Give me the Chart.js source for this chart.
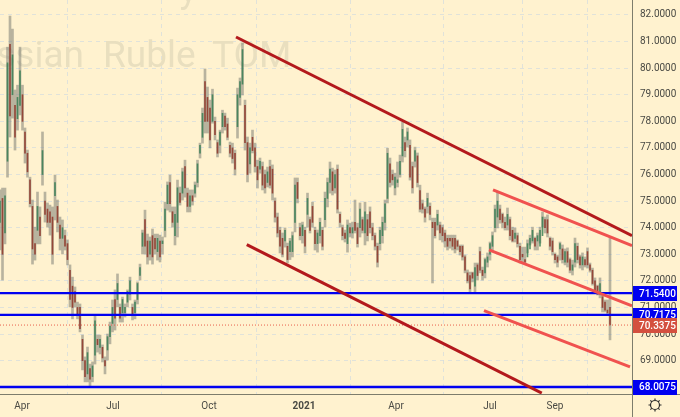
<!DOCTYPE html>
<html><head><meta charset="utf-8">
<style>html,body{margin:0;padding:0;background:#fff2cf}#w{width:680px;height:417px;position:relative}</style>
<script src="https://cdn.jsdelivr.net/npm/chart.js@4"></script>
</head><body><div id="w"><canvas id="c" width="680" height="417"></canvas></div>
<script>
const highs=[
75.42,75.49,75.49,80.79,81.96,81.47,79.18,79.36,80.79,79.36,
77.75,76.92,75.90,75.04,74.02,75.34,74.78,77.60,75.34,74.93,
74.85,74.78,75.98,75.04,74.40,74.29,73.91,73.54,72.60,72.14,
71.77,71.20,71.13,69.96,69.14,69.51,68.87,68.95,70.72,69.96,
69.96,69.59,69.14,70.00,70.45,71.28,71.66,72.26,71.13,71.39,
71.13,71.66,72.14,71.13,71.28,71.96,72.63,73.91,74.66,73.76,
73.65,73.95,73.76,73.76,73.72,73.65,74.96,75.72,75.98,74.78,
74.78,75.79,75.53,76.24,76.54,75.49,75.42,75.42,75.72,76.54,
77.18,78.50,79.97,79.29,78.80,79.21,78.16,77.30,77.67,78.42,
78.31,78.12,77.22,77.18,76.92,79.25,79.63,80.94,78.80,77.41,
77.18,77.67,77.18,76.54,76.62,76.47,76.17,76.28,76.54,76.36,
75.12,74.55,74.02,73.80,73.99,73.42,73.60,73.84,75.87,75.87,
74.17,74.21,74.02,75.30,74.40,74.96,74.02,73.91,74.36,74.02,
75.34,75.87,76.47,76.24,76.17,76.36,74.59,74.10,73.91,74.29,
74.17,74.21,75.04,74.17,74.93,74.40,74.96,74.50,74.78,74.17,
73.80,73.42,74.02,74.40,75.04,76.99,76.62,76.17,76.05,76.47,
76.73,77.97,77.41,77.75,77.30,76.47,77.03,76.81,75.60,75.04,
74.78,75.30,74.93,74.36,74.36,74.66,74.21,74.10,73.91,73.72,
73.72,73.72,73.72,73.54,73.35,73.35,72.97,72.41,72.33,72.33,
72.67,72.67,73.27,72.52,72.86,73.05,73.46,73.84,74.85,75.34,
74.85,74.55,74.40,74.74,74.40,74.02,73.99,73.80,73.42,73.27,
73.27,73.54,73.72,74.02,73.65,73.80,74.02,74.59,74.40,74.48,
73.65,73.61,73.05,72.97,73.46,73.35,73.20,73.24,72.86,72.78,
73.61,73.42,72.97,73.05,72.90,73.24,72.67,72.48,72.11,71.84,
72.11,71.47,71.28,71.28,73.65];
const lows=[
73.16,72.03,73.39,75.90,77.41,78.12,76.92,77.67,78.24,77.67,
76.43,75.90,74.78,72.63,72.78,73.39,73.39,75.60,74.21,74.02,
73.72,72.63,74.29,73.84,73.16,73.01,73.16,72.60,71.02,70.57,
71.02,70.57,70.08,68.65,68.20,68.20,68.05,68.20,68.87,69.32,
69.25,68.95,68.50,69.02,69.63,70.08,70.15,71.02,70.45,70.45,
70.64,71.02,71.28,70.53,70.57,71.13,72.03,73.01,73.01,72.63,
72.78,72.63,73.01,72.78,72.71,73.01,73.65,74.66,74.59,74.02,
73.35,73.65,74.85,75.04,75.15,74.59,74.59,74.85,75.15,75.53,
76.62,77.18,77.56,77.56,77.00,77.93,77.30,76.66,76.81,77.56,
77.67,77.30,76.66,76.43,75.98,77.37,78.61,78.99,76.92,75.72,
76.05,76.81,76.09,75.49,76.05,75.42,75.30,75.53,75.49,75.04,
74.21,73.65,73.05,72.90,73.27,72.67,72.80,72.90,73.84,74.93,
73.54,73.42,73.05,74.02,73.80,74.02,73.16,73.08,73.42,73.16,
74.02,74.78,75.30,75.23,75.30,74.55,74.02,73.54,73.46,73.08,
73.65,73.61,73.80,73.27,73.65,73.80,73.35,73.50,73.80,73.54,
73.16,72.52,73.16,73.42,73.91,74.93,75.53,75.60,75.23,75.53,
75.90,76.47,76.66,77.03,75.79,75.30,76.28,75.53,74.59,74.55,
74.21,74.55,74.29,71.92,73.61,73.91,73.54,73.46,73.27,73.16,
73.23,73.16,73.05,73.16,72.97,72.78,72.30,71.92,71.54,71.96,
71.54,72.03,72.30,72.03,72.11,72.52,72.78,73.16,73.84,73.99,
74.17,73.99,73.91,73.91,73.54,73.46,73.46,73.27,72.67,72.67,
72.67,73.05,73.35,73.42,73.16,73.16,73.42,74.02,73.80,73.65,
73.16,72.97,72.67,72.52,72.78,72.67,72.60,72.52,72.30,72.22,
72.52,72.67,72.48,72.41,72.52,72.48,72.33,71.84,71.54,71.47,
71.36,70.83,70.83,70.72,69.78];
const opens=[
74.2,75.1,73.8,76.5,80.9,79.0,78.6,78.1,78.6,79.0,
77.6,76.8,75.8,74.8,73.4,73.9,74.4,76.0,75.0,74.7,
74.6,74.4,75.2,74.8,74.1,73.6,73.7,73.4,72.4,71.8,
71.6,71.0,71.0,69.8,69.0,68.5,68.7,68.4,69.2,69.8,
69.5,69.5,69.0,69.4,69.9,70.4,71.3,71.3,71.0,70.8,
70.8,71.2,71.5,71.0,70.8,71.3,72.2,73.3,74.3,73.5,
73.0,73.7,73.6,73.1,73.5,73.4,73.9,74.9,75.7,74.6,
73.7,74.2,75.3,75.3,76.3,75.3,74.8,75.2,75.3,75.7,
76.8,77.4,79.5,78.9,78.5,78.0,78.0,77.2,77.1,77.8,
78.2,77.9,77.1,77.0,76.8,77.8,78.9,79.4,78.6,77.2,
76.4,77.4,77.0,76.3,76.2,76.3,76.0,75.7,76.3,76.2,
75.0,74.4,73.9,73.6,73.5,73.3,73.1,73.1,74.2,75.7,
74.0,73.7,73.9,74.5,74.3,74.8,73.9,73.4,73.7,73.9,
74.3,75.1,75.7,76.1,75.5,76.2,74.5,74.0,73.8,73.4,
74.0,73.8,74.2,74.0,74.0,74.3,73.8,74.3,74.6,74.0,
73.7,73.3,73.4,73.7,74.2,75.1,76.4,76.0,75.5,75.7,
76.0,76.7,77.2,77.3,77.1,76.3,76.5,76.7,75.4,74.9,
74.7,74.8,74.8,74.2,74.2,74.1,74.1,74.0,73.8,73.6,
73.6,73.6,73.6,73.5,73.3,73.3,72.9,72.3,72.2,72.3,
71.8,72.6,73.1,72.4,72.3,72.7,73.0,73.3,74.0,74.4,
74.7,74.5,74.2,74.1,74.3,73.9,73.6,73.7,73.3,73.0,
72.8,72.9,73.2,73.5,73.6,73.5,73.3,73.7,74.3,74.3,
73.6,73.5,73.0,72.9,73.2,73.2,72.7,73.1,72.8,72.4,
72.7,73.3,72.9,72.6,72.8,73.1,72.6,72.4,72.0,71.8,
71.5,71.4,71.2,70.9,71.0];
const closes=[
75.0,73.0,75.2,80.2,78.2,80.5,77.4,78.9,79.9,78.0,
76.8,76.1,74.9,73.2,73.0,74.8,73.7,76.9,74.5,74.2,
74.2,73.0,75.7,74.2,73.6,74.0,73.3,72.8,71.3,71.0,
71.2,70.7,70.2,69.0,68.4,69.3,68.3,68.8,70.5,69.6,
69.8,69.1,68.8,69.9,70.3,71.0,70.6,71.9,70.6,71.3,
71.0,71.6,72.0,70.7,71.2,71.9,72.5,73.8,73.3,72.9,
73.5,72.9,73.2,73.6,72.9,73.5,74.7,75.6,74.9,74.2,
74.5,75.5,74.95,76.1,75.5,74.8,75.2,75.0,75.6,76.4,
77.1,78.3,78.0,78.0,77.3,79.0,77.5,76.8,77.6,78.3,
77.8,77.4,76.8,76.6,76.2,79.0,79.5,80.7,77.2,76.0,
77.0,76.9,76.3,75.8,76.5,75.6,75.5,76.1,75.6,75.3,
74.4,73.8,73.3,73.0,73.9,72.8,73.5,73.7,75.6,75.1,
73.7,74.1,73.3,75.1,73.9,74.2,73.4,73.8,74.2,73.3,
75.1,75.7,76.2,75.4,76.0,74.7,74.2,73.7,73.6,74.1,
73.8,74.0,73.9,73.4,74.7,73.9,74.6,73.7,74.0,73.7,
73.3,72.7,73.9,74.2,74.9,76.8,75.7,75.8,75.9,75.8,
76.5,77.7,76.9,77.6,75.9,75.5,76.9,75.7,74.7,74.7,
74.4,75.1,74.5,74.0,73.7,74.5,73.8,73.7,73.5,73.3,
73.5,73.3,73.2,73.3,73.1,72.9,72.4,72.0,71.7,72.1,
72.5,72.2,72.4,72.2,72.8,72.9,73.4,73.7,74.7,75.0,
74.3,74.2,74.0,74.5,73.7,73.5,73.8,73.4,72.8,72.9,
72.7,73.4,73.6,73.9,73.3,73.7,73.9,74.4,74.0,73.8,
73.3,73.1,72.8,72.7,73.4,72.8,73.1,72.7,72.4,72.6,
73.4,72.8,72.6,72.9,72.6,72.6,72.4,71.9,71.6,71.5,
71.9,71.0,70.9,70.8,70.34];
const xTickPositions=[8.8,45.2,83.6,121.6,158.4,196,222];
const xTickLabels=["Apr","Jul","Oct","2021","Apr","Jul","Sep"];
const yTickValues=[68,69,70,71,72,73,74,75,76,77,78,79,80,81,82];
const levels=[71.54,70.7175,68.0075];
const lastPrice=70.3375;
const channelUpper=[{x:94.4,y:81.173},{x:252.8,y:73.703}];
const channelLower=[{x:98.7,y:73.365},{x:216.7,y:67.778}];
const innerUpper=[{x:197.2,y:75.421},{x:252.8,y:73.327}];
const innerMiddle=[{x:195.6,y:73.165},{x:252.8,y:71.06}];
const innerLower=[{x:193.6,y:70.883},{x:252,y:68.767}];
const xMax=252.8,yMax=82.564,yMin=67.744;
const idx=highs.map((_,i)=>i);
const lineDs=(data,color,w,dash)=>({type:'line',data,borderColor:color,borderWidth:w,borderDash:dash||[],pointRadius:0,order:0,fill:false,borderCapStyle:'butt',tension:0});
const levelDs=levels.map(v=>lineDs([{x:0,y:v},{x:xMax,y:v}],'#0000f0',2.3));
const mark={id:'mark',
 beforeDatasetsDraw(ch){const c=ch.ctx;c.save();c.fillStyle='#e9dfbf';c.font='37px Roboto';c.textBaseline='alphabetic';c.textAlign='right';
  c.fillText('Russian',84,67);c.fillText('y',197,2);c.textAlign='left';c.fillText('Ruble',103,67);c.fillText('TOM',212,67);c.fillText('_',-2,-3);c.restore();},
 afterDraw(ch){const c=ch.ctx,y=ch.scales.y;c.save();
  c.strokeStyle='#7d7d6c';c.lineWidth=1;c.beginPath();c.moveTo(632.5,0);c.lineTo(632.5,417);c.moveTo(0,394.5);c.lineTo(680,394.5);c.stroke();
  c.font='500 10px Roboto';c.textBaseline='middle';c.textAlign='left';
  const tag=(v,col)=>{const p=y.getPixelForValue(v);c.fillStyle=col;c.fillRect(633,Math.round(p)-7,44,15);c.fillStyle='#fff';c.fillText(v.toFixed(4),639,p+1);};
  levels.forEach(v=>tag(v,'#0000f0'));tag(lastPrice,'#d4503f');
  const cx=655,cy=405;c.strokeStyle='#2a2a2a';c.lineWidth=1.2;c.beginPath();c.arc(cx,cy,4.5,0,Math.PI*2);
  for(let k=0;k<8;k++){const a=k*Math.PI/4;c.moveTo(cx+4.5*Math.cos(a),cy+4.5*Math.sin(a));c.lineTo(cx+6.5*Math.cos(a),cy+6.5*Math.sin(a));}
  c.stroke();c.restore();}};
new Chart(document.getElementById('c'),{
 type:'bar',
 data:{datasets:[
  {type:'bar',grouped:false,data:idx.map(i=>({x:i,y:[lows[i],highs[i]]})),backgroundColor:'rgba(125,128,118,.55)',barThickness:2,order:3},
  {type:'bar',grouped:false,data:idx.map(i=>({x:i,y:[opens[i],closes[i]]})),backgroundColor:idx.map(i=>closes[i]>=opens[i]?'rgba(47,122,78,.8)':'rgba(140,44,30,.8)'),barThickness:1,order:2},
  lineDs(channelUpper,'#b3191c',3),lineDs(channelLower,'#b3191c',3),
  lineDs(innerUpper,'#f0524f',3),lineDs(innerMiddle,'#f0524f',3),lineDs(innerLower,'#f0524f',3),
  ...levelDs,
  lineDs([{x:0,y:lastPrice},{x:xMax,y:lastPrice}],'#e8604c',1,[1,2])
 ]},
 options:{responsive:false,animation:false,devicePixelRatio:1,
  layout:{padding:0},
  plugins:{legend:{display:false},tooltip:{enabled:false},title:{display:false}},
  scales:{
   x:{type:'linear',min:0,max:xMax,offset:false,
    afterBuildTicks:s=>{s.ticks=xTickPositions.map(v=>({value:v}));},
    afterFit:s=>{s.height=23;s.paddingLeft=0;s.paddingRight=0;},
    grid:{color:'rgba(214,220,222,.75)',drawTicks:false,lineWidth:1},
    border:{display:false,dash:[4,4]},
    ticks:{autoSkip:false,maxRotation:0,padding:6,color:'#4a4a44',
     font:c=>({family:'Roboto',size:10,weight:c.index===3?'bold':'normal'}),
     callback:(v,i)=>xTickLabels[i]}},
   y:{type:'linear',position:'right',min:yMin,max:yMax,
    afterBuildTicks:s=>{s.ticks=yTickValues.map(v=>({value:v}));},
    afterFit:s=>{s.width=48;s.paddingTop=0;s.paddingBottom=0;},
    grid:{color:'rgba(214,220,222,.75)',drawTicks:false,lineWidth:1},
    border:{display:false,dash:[4,4]},
    ticks:{autoSkip:false,padding:8,color:'#4a4a44',font:{family:'Roboto',size:10},callback:v=>Number(v).toFixed(4)}}
  }},
 plugins:[mark]});
</script></body></html>
